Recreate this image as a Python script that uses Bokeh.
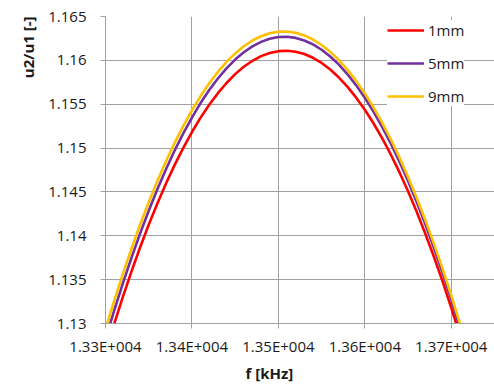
import math
from bokeh.plotting import figure
from bokeh.models import Range1d, FixedTicker, Title, Legend, LegendItem
from bokeh.embed import file_html
from bokeh.resources import INLINE

# ---- data ----
freq = [13300, 13310, 13320, 13330, 13340, 13350, 13360, 13370, 13380, 13390, 13400,
        13410, 13420, 13430, 13440, 13450, 13460, 13470, 13480, 13490, 13500,
        13510, 13520, 13530, 13540, 13550, 13560, 13570, 13580, 13590, 13600,
        13610, 13620, 13630, 13640, 13650, 13660, 13670, 13680, 13690, 13700,
        13710, 13720]
ratio_1mm = [1.12671, 1.12993, 1.13300, 1.13591, 1.13866, 1.14125, 1.14369, 1.14596, 1.14808, 1.15003, 1.15183,
             1.15347, 1.15494, 1.15626, 1.15742, 1.15843, 1.15927, 1.15995, 1.16048, 1.16084, 1.16105,
             1.16110, 1.16099, 1.16072, 1.16029, 1.15970, 1.15895, 1.15804, 1.15698, 1.15575, 1.15437,
             1.15283, 1.15113, 1.14927, 1.14725, 1.14507, 1.14273, 1.14024, 1.13758, 1.13477, 1.13179,
             1.12866, 1.12537]
ratio_5mm = [1.12821, 1.13146, 1.13455, 1.13748, 1.14025, 1.14286, 1.14531, 1.14759, 1.14972, 1.15168, 1.15348,
             1.15513, 1.15661, 1.15793, 1.15909, 1.16009, 1.16092, 1.16160, 1.16211, 1.16247, 1.16266,
             1.16269, 1.16256, 1.16227, 1.16182, 1.16121, 1.16044, 1.15951, 1.15841, 1.15715, 1.15574,
             1.15416, 1.15242, 1.15052, 1.14846, 1.14624, 1.14386, 1.14131, 1.13861, 1.13574, 1.13272,
             1.12953, 1.12618]
ratio_9mm = [1.12935, 1.13257, 1.13562, 1.13852, 1.14126, 1.14383, 1.14625, 1.14850, 1.15060, 1.15254, 1.15431,
             1.15593, 1.15738, 1.15868, 1.15982, 1.16079, 1.16161, 1.16226, 1.16276, 1.16310, 1.16327,
             1.16329, 1.16314, 1.16284, 1.16238, 1.16175, 1.16097, 1.16002, 1.15892, 1.15766, 1.15623,
             1.15465, 1.15290, 1.15100, 1.14894, 1.14671, 1.14433, 1.14178, 1.13908, 1.13622, 1.13319,
             1.13001, 1.12666]
series_names = ["1mm", "5mm", "9mm"]
series_colors = ["#FF0000", "#7030A0", "#FFC000"]

x_ticks = [13300, 13400, 13500, 13600, 13700]
x_tick_labels = ["1.33E+004", "1.34E+004", "1.35E+004", "1.36E+004", "1.37E+004"]
y_ticks = [1.13, 1.135, 1.14, 1.145, 1.15, 1.155, 1.16, 1.165]
y_tick_labels = ["1.13", "1.135", "1.14", "1.145", "1.15", "1.155", "1.16", "1.165"]

x_title = "f [kHz]"
y_title = "u2/u1 [-]"

FONT = "Open Sans"
GRID = "#a0a0a0"
TXT = "#1a1a1a"

W, H = 494, 385
L, T, B, R = 105, 16, 62, 0

p = figure(width=W, height=H, output_backend="svg", toolbar_location=None,
           x_range=Range1d(13300, 13750), y_range=Range1d(1.13, 1.165),
           min_border_left=L, min_border_top=T, min_border_bottom=B, min_border_right=R)
p.outline_line_color = None
p.background_fill_color = "white"
p.border_fill_color = "white"

renderers = []
for ys, c in zip([ratio_1mm, ratio_5mm, ratio_9mm], series_colors):
    r = p.line(freq, ys, line_color=c, line_width=2.6)
    renderers.append(r)

# axes
p.xaxis.ticker = FixedTicker(ticks=x_ticks)
p.xaxis.major_label_overrides = dict(zip(x_ticks, x_tick_labels))
p.yaxis.ticker = FixedTicker(ticks=y_ticks)
p.yaxis.major_label_overrides = dict(zip(y_ticks, y_tick_labels))
for ax in (p.xaxis, p.yaxis):
    ax.axis_line_color = GRID
    ax.major_tick_line_color = GRID
    ax.major_tick_out = 5
    ax.major_tick_in = 0
    ax.minor_tick_line_color = None
    ax.major_label_text_font = FONT
    ax.major_label_text_font_size = "15px"
    ax.major_label_text_color = TXT
p.yaxis.major_label_standoff = 14
p.xaxis.major_label_standoff = 7

p.xgrid.ticker = FixedTicker(ticks=x_ticks)
p.ygrid.ticker = FixedTicker(ticks=y_ticks)
p.grid.grid_line_color = GRID
p.grid.grid_line_width = 1

# legend
items = [LegendItem(label=n, renderers=[r]) for n, r in zip(series_names, renderers)]
frame_h = H - T - B
legend = Legend(items=items, location=(282, frame_h - 90), orientation="vertical",
                glyph_width=37, glyph_height=20, label_height=20, spacing=13,
                padding=6, margin=0, label_standoff=4,
                label_text_font=FONT, label_text_font_size="15px", label_text_color=TXT,
                border_line_color=None, background_fill_color="white", background_fill_alpha=1.0)
p.add_layout(legend)

# axis titles
p.add_layout(Title(text=y_title, align="right", standoff=16,
                   text_font=FONT, text_font_size="15px", text_font_style="bold",
                   text_color=TXT), "left")
p.add_layout(Title(text=x_title, align="left", offset=140, standoff=5,
                   text_font=FONT, text_font_size="15px", text_font_style="bold",
                   text_color=TXT), "below")

open("out.html", "w").write(file_html(p, INLINE))
